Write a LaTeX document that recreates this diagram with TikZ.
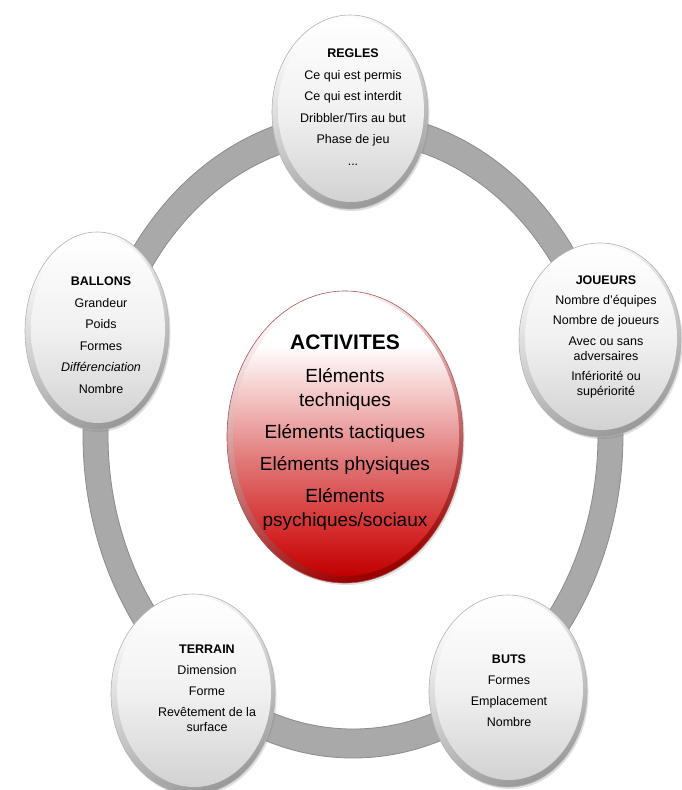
\documentclass[tikz,border=0pt]{standalone}
\usepackage{fontspec}
\setmainfont{Liberation Sans}
\usetikzlibrary{shapes.geometric,shadows}
\definecolor{ringgray}{HTML}{A9A9A9}
\definecolor{ringedge}{HTML}{8C8C8C}
\definecolor{rd0}{HTML}{C00000}
\definecolor{rd1}{HTML}{D42828}
\definecolor{rd2}{HTML}{E07575}
\definecolor{rd3}{HTML}{F3C3C3}
\definecolor{bf0}{HTML}{D2D2D2}
\definecolor{bf1}{HTML}{F1F1F1}
\definecolor{rimdark}{HTML}{9A9A9A}
\pgfdeclareverticalshading{redball}{100bp}{color(0bp)=(rd0); color(25bp)=(rd0); color(32.5bp)=(rd1); color(45bp)=(rd2); color(56.5bp)=(rd3); color(66bp)=(white); color(75bp)=(white); color(100bp)=(white)}
\pgfdeclareverticalshading{bubface}{100bp}{color(0bp)=(bf0); color(25bp)=(bf0); color(50bp)=(bf1); color(75bp)=(white); color(100bp)=(white)}
\tikzset{
  bubrim/.style={ellipse, inner sep=0pt, draw=gray!60, line width=0.6pt,
    shading=axis, top color=white, bottom color=rimdark, shading angle=25,
    drop shadow={opacity=0.25, shadow xshift=1.5pt, shadow yshift=-2pt}},
  bubin/.style={ellipse, inner sep=0pt, shading=bubface},
  redrim/.style={ellipse, inner sep=0pt, draw=red!35!gray, line width=0.6pt,
    shading=axis, top color=white, bottom color=rd0!80!black, shading angle=20,
    drop shadow={opacity=0.25, shadow xshift=1.5pt, shadow yshift=-2pt}},
  redin/.style={ellipse, inner sep=0pt, shading=redball},
  smalltxt/.style={align=center, inner sep=0pt, font=\fontsize{12.5}{15}\selectfont},
  bigtxt/.style={align=center, inner sep=0pt, font=\fontsize{19}{24}\selectfont},
}
\begin{document}
\begin{tikzpicture}[x=1pt,y=-1pt]
\useasboundingbox (0,0) rectangle (682,790);
\fill[white] (0,0) rectangle (682,790);
% ring
\fill[ringgray, even odd rule] (353,435) ellipse [x radius=270, y radius=323]
  (353,435) ellipse [x radius=245, y radius=294];
\draw[ringedge, line width=0.8pt] (353,435) ellipse [x radius=270, y radius=323];
\draw[ringedge, line width=0.8pt] (353,435) ellipse [x radius=245, y radius=294];
% REGLES
\node[bubrim, minimum width=156pt, minimum height=194pt] (regles) at (350,112) {};
\node[bubin, minimum width=146pt, minimum height=184pt] (reglesf) at (351,110) {};
\node[smalltxt] (reglest) at (353,107) {\textbf{REGLES}\\[6.5pt]Ce qui est permis\\[6.5pt]Ce qui est interdit\\[6.5pt]Dribbler/Tirs au but\\[6.5pt]Phase de jeu\\[6.5pt]...};
% JOUEURS
\node[bubrim, minimum width=162pt, minimum height=194pt] (joueurs) at (600,340) {};
\node[bubin, minimum width=152pt, minimum height=184pt] (joueursf) at (601,338) {};
\node[smalltxt] (joueurst) at (606,337) {\textbf{JOUEURS}\\[5pt]Nombre d'équipes\\[5.5pt]Nombre de joueurs\\[5.5pt]Avec ou sans\\adversaires\\[5.5pt]Infériorité ou\\supériorité};
% BALLONS
\node[bubrim, minimum width=144pt, minimum height=198pt] (ballons) at (97,331) {};
\node[bubin, minimum width=134pt, minimum height=188pt] (ballonsf) at (98,329) {};
\node[smalltxt] (ballonst) at (101,335) {\textbf{BALLONS}\\[6.5pt]Grandeur\\[6.5pt]Poids\\[6.5pt]Formes\\[6.5pt]\textit{Différenciation}\\[6.5pt]Nombre};
% TERRAIN
\node[bubrim, minimum width=164pt, minimum height=200pt] (terrain) at (193,694) {};
\node[bubin, minimum width=154pt, minimum height=190pt] (terrainf) at (194,692) {};
\node[smalltxt] (terraint) at (207,688) {\textbf{TERRAIN}\\[6pt]Dimension\\[6pt]Forme\\[6pt]Revêtement de la\\surface};
% BUTS
\node[bubrim, minimum width=158pt, minimum height=192pt] (buts) at (508,691) {};
\node[bubin, minimum width=148pt, minimum height=182pt] (butsf) at (509,689) {};
\node[smalltxt] (butst) at (509,691) {\textbf{BUTS}\\[6pt]Formes\\[6pt]Emplacement\\[6pt]Nombre};
% ACTIVITES
\node[redrim, minimum width=236pt, minimum height=292pt] (activites) at (345,437) {};
\node[redin, minimum width=226pt, minimum height=282pt] (activitesf) at (346,435) {};
\node[bigtxt] (activitest) at (345,433) {{\fontsize{21}{24}\selectfont\bfseries ACTIVITES}\\[9pt]Eléments\\techniques\\[8pt]Eléments tactiques\\[8pt]Eléments physiques\\[8pt]Eléments\\psychiques/sociaux};
\end{tikzpicture}
\end{document}
